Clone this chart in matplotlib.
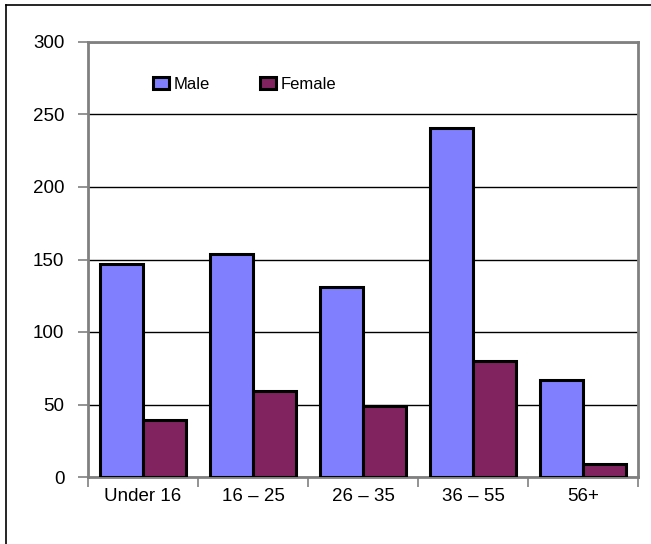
import numpy as np
import matplotlib.pyplot as plt
from matplotlib.lines import Line2D

plt.rcParams['font.family'] = ['Liberation Sans', 'DejaVu Sans']

categories = ['Under 16', '16 \u2013 25', '26 \u2013 35', '36 \u2013 55', '56+']
male = [147, 154, 131, 241, 67]
female = [39, 59, 49, 80, 9]

W, H = 651, 544
fig = plt.figure(figsize=(W / 100, H / 100), dpi=100)
ax = fig.add_axes([88 / W, 67 / H, 550 / W, 435 / H])

x = np.arange(len(categories))
bw = 0.39
ax.bar(x - bw / 2, male, bw, color='#8080FF', edgecolor='black', linewidth=2.2,
       label='Male', zorder=3)
ax.bar(x + bw / 2, female, bw, color='#80235F', edgecolor='black', linewidth=2.2,
       label='Female', zorder=3)

ax.set_xlim(-0.5, len(categories) - 0.5)
ax.set_ylim(0, 300)
ax.set_yticks(np.arange(0, 301, 50))
ax.yaxis.grid(True, color='black', linewidth=1.0, zorder=0)

# category labels between boundary ticks
ax.set_xticks(np.arange(-0.5, len(categories), 1))
ax.set_xticklabels([])
ax.set_xticks(x, minor=True)
ax.set_xticklabels(categories, minor=True)
ax.tick_params(axis='x', which='minor', length=0, pad=8, labelsize=13.5)
ax.tick_params(axis='x', which='major', length=7, color='#808080', width=1.2)
ax.tick_params(axis='y', length=7, color='#808080', width=1.2, pad=10, labelsize=13.5)

for s in ax.spines.values():
    s.set_color('#808080')
    s.set_linewidth(2)

ax.legend(loc='upper left', bbox_to_anchor=(0.09, 0.955), ncol=2, frameon=False,
          fontsize=12, handlelength=1.0, handleheight=0.8, handletextpad=0.25,
          columnspacing=3.0)

# outer border (top and left only visible)
fig.add_artist(Line2D([6 / W, 6 / W], [0, 1 - 5 / H], transform=fig.transFigure,
                      color='black', linewidth=1.2))
fig.add_artist(Line2D([6 / W, 1], [1 - 5 / H, 1 - 5 / H], transform=fig.transFigure,
                      color='black', linewidth=1.2))

fig.savefig('out.png', dpi=100)
